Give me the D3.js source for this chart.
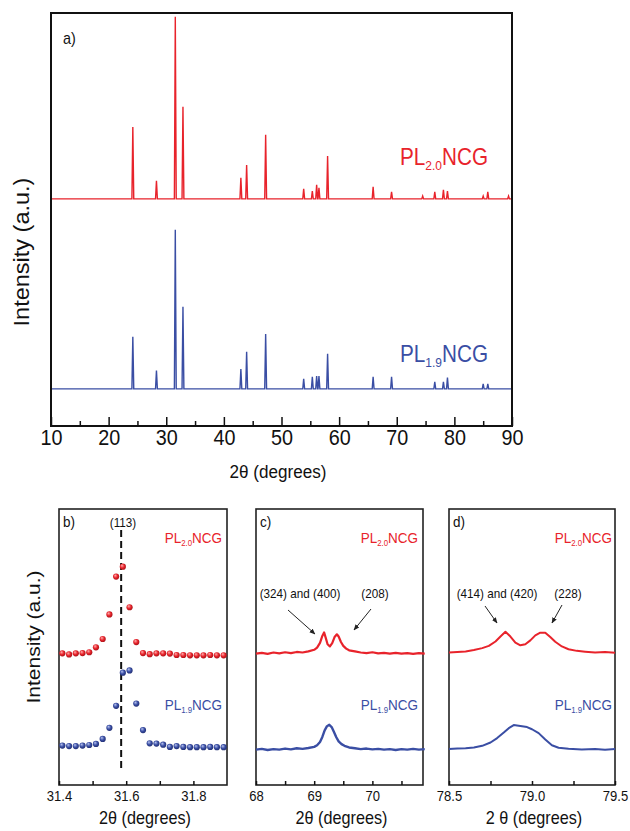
<!DOCTYPE html>
<html>
<head>
<meta charset="utf-8">
<script src="https://cdn.jsdelivr.net/npm/d3@7"></script>
<style>
  body { margin: 0; background: #fff; }
  text { font-family: "Liberation Sans", Arial, sans-serif; }
</style>
</head>
<body>
<script>
// ---- panel a: full patterns (peak positions + heights above each baseline)
const peakPos = [24.2, 28.3, 31.57, 32.9, 42.95, 43.95, 47.25, 53.85, 55.35, 56.1, 56.5, 58.0, 65.9, 69.1, 74.5, 76.6, 78.1, 78.8, 85.0, 85.8, 89.4];
const redPeaks = [174, 44, 441, 223, 51, 82, 155, 24, 19, 34, 27, 104, 29, 17, 7, 17, 22, 19, 7, 17, 7];
const bluePeaks = [126, 44, 385, 199, 48, 90, 133, 24, 29, 31, 31, 85, 29, 29, 0, 17, 17, 27, 12, 12, 0];
const redBase = 550, blueBase = 90;
const aTicks = [10, 20, 30, 40, 50, 60, 70, 80, 90];
const aMinor = [15, 25, 35, 45, 55, 65, 75, 85];

// ---- panel b: (113) reflection, measured points
const bTheta = [31.41, 31.43, 31.45, 31.47, 31.49, 31.51, 31.53, 31.55, 31.57, 31.59, 31.61, 31.63, 31.65,
                31.67, 31.69, 31.71, 31.73, 31.75, 31.77, 31.79, 31.81, 31.83, 31.85, 31.87, 31.89];
const bRed = [47.7, 47.3, 47.7, 47.8, 48.1, 49.9, 52.9, 61.8, 75.5, 79.1, 64.4, 51.8, 47.8,
              47.4, 47.7, 47.7, 47.6, 47.1, 47.1, 47.0, 47.0, 47.0, 47.1, 47.0, 47.0];
const bBlue = [14.3, 14.1, 14.1, 14.3, 14.5, 14.9, 16.7, 20.7, 28.7, 40.7, 41.5, 29.5, 19.9,
               15.1, 15.0, 14.6, 13.8, 14.1, 13.8, 13.7, 13.7, 13.7, 13.8, 13.7, 13.7];
const bTicks = [31.4, 31.6, 31.8];
const bMinor = [31.5, 31.7];

// ---- panel c: 68-71 degrees
const cRedTheta = [68.0, 68.1, 68.2, 68.3, 68.4, 68.5, 68.6, 68.7, 68.8, 68.9, 69.0, 69.05, 69.1, 69.14, 69.17, 69.2,
                   69.23, 69.27, 69.31, 69.35, 69.39, 69.42, 69.46, 69.5, 69.55, 69.6, 69.7, 69.8, 69.9, 70.0,
                   70.1, 70.2, 70.3, 70.4, 70.5, 70.6, 70.7, 70.8, 70.9];
const cRed = [47.6, 47.9, 47.5, 48.0, 47.7, 48.1, 47.8, 48.2, 48.0, 48.4, 49.0, 49.8, 51.5, 54.0, 55.3, 53.2,
              51.0, 50.2, 51.4, 53.6, 54.6, 53.8, 51.8, 50.4, 49.4, 48.8, 48.4, 48.0, 47.8, 48.1,
              47.7, 47.9, 47.6, 47.9, 47.6, 47.8, 47.5, 47.8, 47.6];
const cBlueTheta = [68.0, 68.1, 68.2, 68.3, 68.4, 68.5, 68.6, 68.7, 68.8, 68.9, 69.0, 69.05, 69.1, 69.14, 69.18, 69.22,
                    69.26, 69.3, 69.34, 69.38, 69.42, 69.47, 69.52, 69.6, 69.7, 69.8, 69.9, 70.0, 70.1, 70.2,
                    70.3, 70.4, 70.5, 70.6, 70.7, 70.8, 70.9];
const cBlue = [12.8, 13.1, 12.7, 13.0, 12.8, 13.2, 12.9, 13.3, 13.1, 13.4, 13.8, 14.4, 15.6, 17.4, 19.8, 21.3,
               21.8, 21.0, 19.2, 17.3, 15.8, 14.8, 14.2, 13.6, 13.3, 13.0, 13.2, 12.9, 13.1, 12.8,
               13.0, 12.7, 13.0, 12.8, 13.1, 12.8, 13.0];
const cTicks = [68, 69, 70];
const cMinor = [68.5, 69.5, 70.5];

// ---- panel d: 78.5-79.5 degrees
const dRedTheta = [78.5, 78.55, 78.6, 78.65, 78.7, 78.74, 78.78, 78.81, 78.84, 78.87, 78.9, 78.93, 78.96,
                   78.99, 79.02, 79.05, 79.08, 79.11, 79.14, 79.18, 79.22, 79.27, 79.32, 79.38, 79.44, 79.5];
const dRed = [48.0, 48.2, 48.4, 48.9, 49.6, 50.4, 52.0, 53.8, 55.5, 53.8, 51.6, 50.6, 51.0,
              52.4, 54.2, 55.2, 55.2, 53.6, 51.9, 50.2, 49.2, 48.6, 48.3, 48.0, 48.2, 47.9];
const dBlueTheta = [78.5, 78.55, 78.6, 78.65, 78.7, 78.75, 78.79, 78.83, 78.86, 78.89, 78.93, 78.97, 79.0,
                    79.04, 79.08, 79.12, 79.16, 79.22, 79.3, 79.38, 79.44, 79.5];
const dBlue = [13.0, 13.2, 13.3, 13.6, 14.2, 15.4, 17.0, 19.0, 20.6, 21.7, 21.4, 21.0, 20.2,
               18.8, 16.5, 14.4, 13.5, 13.1, 12.9, 13.0, 12.8, 13.0];
const dTicks = [78.5, 79.0, 79.5];
const dMinor = [78.75, 79.25];

const RED = '#e8232b';
const BLUE = '#3a4ea4';
const SX = 0.9; // source figure is slightly squeezed horizontally

const svg = d3.select('body').append('svg')
  .attr('width', 630).attr('height', 831);
svg.append('rect').attr('width', 630).attr('height', 831).attr('fill', '#fff');

const defs = svg.append('defs');
defs.append('marker').attr('id', 'arrow')
  .attr('viewBox', '0 0 10 10').attr('refX', 9).attr('refY', 5)
  .attr('markerWidth', 6).attr('markerHeight', 6).attr('orient', 'auto')
  .append('path').attr('d', 'M0,1 L10,5 L0,9 Z').attr('fill', '#222');

function ball (id, c0, c1, c2) {
  let g = defs.append('radialGradient').attr('id', id)
    .attr('cx', '45%').attr('cy', '45%').attr('r', '60%').attr('fx', '35%').attr('fy', '30%');
  g.append('stop').attr('offset', '0%').attr('stop-color', c0);
  g.append('stop').attr('offset', '55%').attr('stop-color', c1);
  g.append('stop').attr('offset', '100%').attr('stop-color', c2);
}
ball('redBall', '#ffb0b0', '#e8232b', '#a01015');
ball('blueBall', '#b8c4f0', '#3a4ea4', '#1d2a6c');

// text helper, squeezed horizontally like the original
function label (g, x, y, str, size, opts = {}) {
  return g.append('text')
    .attr('transform', `translate(${x},${y}) scale(${SX},1)` + (opts.rotate ? ' rotate(-90)' : ''))
    .attr('text-anchor', opts.anchor || 'middle')
    .attr('dy', '0.35em')
    .attr('font-size', size)
    .attr('fill', opts.fill || '#111')
    .text(str);
}

// "PL" + subscript + "NCG"
function sampleName (g, x, y, sub, size, color, anchor) {
  let t = g.append('text')
    .attr('transform', `translate(${x},${y}) scale(${SX},1)`)
    .attr('text-anchor', anchor)
    .attr('font-size', size)
    .attr('fill', color);
  t.append('tspan').text('PL');
  t.append('tspan').attr('font-size', size * 0.58).attr('dy', size * 0.22).text(sub);
  t.append('tspan').attr('dy', -size * 0.22).text('NCG');
}

function bottomAxis (g, x, y0, major, minor, majorLen, minorLen, fmt, fontSize, labelOff) {
  let ax = g.append('g').attr('transform', `translate(0,${y0})`)
    .call(d3.axisBottom(x).tickValues(major).tickSize(-majorLen).tickFormat(fmt));
  ax.select('.domain').remove();
  ax.selectAll('line').attr('stroke', '#111').attr('stroke-width', 1.5);
  ax.selectAll('text')
    .attr('y', labelOff).attr('dy', '0.35em')
    .attr('transform', `scale(${SX},1)`)
    .attr('font-size', fontSize).attr('fill', '#111')
    .attr('font-family', '"Liberation Sans", Arial, sans-serif');
  let mi = g.append('g').attr('transform', `translate(0,${y0})`)
    .call(d3.axisBottom(x).tickValues(minor).tickSize(-minorLen).tickFormat(''));
  mi.select('.domain').remove();
  mi.selectAll('line').attr('stroke', '#111').attr('stroke-width', 1.5);
}

// ================= panel a =================
const A = { left: 51, right: 512, top: 13, bottom: 426 };
const xA = d3.scaleLinear().domain([10, 90]).range([A.left, A.right]);
const yA = d3.scaleLinear().domain([0, 1000]).range([A.bottom, A.top]);
const gA = svg.append('g');

function pattern (heights, base) {
  let pts = [[10, base]];
  peakPos.forEach((p, i) => {
    if (heights[i] <= 0) return;
    pts.push([p - 0.16, base], [p, base + heights[i]], [p + 0.16, base]);
  });
  pts.push([90, base]);
  return pts;
}
const lineA = d3.line().x(d => xA(d[0])).y(d => yA(d[1]));
gA.append('path').attr('d', lineA(pattern(redPeaks, redBase)))
  .attr('fill', 'none').attr('stroke', RED).attr('stroke-width', 1.4);
gA.append('path').attr('d', lineA(pattern(bluePeaks, blueBase)))
  .attr('fill', 'none').attr('stroke', BLUE).attr('stroke-width', 1.4);

gA.append('rect').attr('x', A.left).attr('y', A.top)
  .attr('width', A.right - A.left).attr('height', A.bottom - A.top)
  .attr('fill', 'none').attr('stroke', '#111').attr('stroke-width', 2);
bottomAxis(gA, xA, A.bottom, aTicks, aMinor, 9, 5, d3.format('d'), 22, 11);

label(gA, 278, 471, '2\u03b8 (degrees)', 19);
label(gA, 22, 252, 'Intensity (a.u.)', 23.5, { rotate: true });
label(gA, 63, 38, 'a)', 16, { anchor: 'start' });
sampleName(gA, 400, 165, '2.0', 23, RED, 'start');
sampleName(gA, 400, 362, '1.9', 23, BLUE, 'start');

// ================= panels b, c, d =================
const top2 = 509, bottom2 = 785;
const y2 = d3.scaleLinear().domain([0, 100]).range([bottom2, top2]);

function smallPanel (x, tag, major, minor, fmt, title) {
  let g = svg.append('g');
  g.append('rect').attr('x', x.range()[0]).attr('y', top2)
    .attr('width', x.range()[1] - x.range()[0]).attr('height', bottom2 - top2)
    .attr('fill', 'none').attr('stroke', '#222').attr('stroke-width', 1.6);
  bottomAxis(g, x, bottom2, major, minor, 4, 4, fmt, 14.5, 11);
  label(g, x.range()[0] + 4, 522, tag, 15, { anchor: 'start' });
  label(g, (x.range()[0] + x.range()[1]) / 2 + 2, 818, title, 18);
  return g;
}

// b
const xB = d3.scaleLinear().domain([31.4, 31.9]).range([59, 227]);
const gB = smallPanel(xB, 'b)', bTicks, bMinor, d3.format('.1f'), '2\u03b8 (degrees)');
gB.append('line')
  .attr('x1', xB(31.585)).attr('x2', xB(31.585)).attr('y1', 530).attr('y2', 771)
  .attr('stroke', '#111').attr('stroke-width', 2).attr('stroke-dasharray', '7,4');
gB.selectAll('circle.red').data(bTheta).join('circle')
  .attr('class', 'red').attr('cx', d => xB(d)).attr('cy', (d, i) => y2(bRed[i]))
  .attr('r', 3.1).attr('fill', 'url(#redBall)');
gB.selectAll('circle.blue').data(bTheta).join('circle')
  .attr('class', 'blue').attr('cx', d => xB(d)).attr('cy', (d, i) => y2(bBlue[i]))
  .attr('r', 3.1).attr('fill', 'url(#blueBall)');
label(gB, 123, 522, '(113)', 13);
label(gB, 33, 637, 'Intensity (a.u.)', 21, { rotate: true });
sampleName(gB, 222, 543, '2.0', 15, RED, 'end');
sampleName(gB, 222, 710, '1.9', 15, BLUE, 'end');

// c
const xC = d3.scaleLinear().domain([68, 70.87]).range([256, 423]);
const gC = smallPanel(xC, 'c)', cTicks, cMinor, d3.format('d'), '2\u03b8 (degrees)');
const lineC = d3.line().x(d => xC(d[0])).y(d => y2(d[1]));
gC.append('path').attr('d', lineC(cRedTheta.map((t, i) => [t, cRed[i]])))
  .attr('fill', 'none').attr('stroke', RED).attr('stroke-width', 2.2).attr('stroke-linejoin', 'round');
gC.append('path').attr('d', lineC(cBlueTheta.map((t, i) => [t, cBlue[i]])))
  .attr('fill', 'none').attr('stroke', BLUE).attr('stroke-width', 2.4).attr('stroke-linejoin', 'round');
sampleName(gC, 418, 543, '2.0', 15, RED, 'end');
sampleName(gC, 418, 710, '1.9', 15, BLUE, 'end');
label(gC, 300, 593, '(324) and (400)', 13);
label(gC, 375, 593, '(208)', 13);
gC.append('line').attr('x1', 288).attr('y1', 610).attr('x2', 315).attr('y2', 634)
  .attr('stroke', '#222').attr('stroke-width', 1).attr('marker-end', 'url(#arrow)');
gC.append('line').attr('x1', 371).attr('y1', 609).attr('x2', 354).attr('y2', 630)
  .attr('stroke', '#222').attr('stroke-width', 1).attr('marker-end', 'url(#arrow)');

// d
const xD = d3.scaleLinear().domain([78.5, 79.5]).range([449, 615]);
const gD = smallPanel(xD, 'd)', dTicks, dMinor, d3.format('.1f'), '2 \u03b8 (degrees)');
const lineD = d3.line().x(d => xD(d[0])).y(d => y2(d[1]));
gD.append('path').attr('d', lineD(dRedTheta.map((t, i) => [t, dRed[i]])))
  .attr('fill', 'none').attr('stroke', RED).attr('stroke-width', 2).attr('stroke-linejoin', 'round');
gD.append('path').attr('d', lineD(dBlueTheta.map((t, i) => [t, dBlue[i]])))
  .attr('fill', 'none').attr('stroke', BLUE).attr('stroke-width', 2).attr('stroke-linejoin', 'round');
sampleName(gD, 612, 543, '2.0', 15, RED, 'end');
sampleName(gD, 612, 710, '1.9', 15, BLUE, 'end');
label(gD, 497, 593, '(414) and (420)', 13);
label(gD, 568, 593, '(228)', 13);
gD.append('line').attr('x1', 485).attr('y1', 606).attr('x2', 497).attr('y2', 623)
  .attr('stroke', '#222').attr('stroke-width', 1).attr('marker-end', 'url(#arrow)');
gD.append('line').attr('x1', 562).attr('y1', 605).attr('x2', 552).attr('y2', 623)
  .attr('stroke', '#222').attr('stroke-width', 1).attr('marker-end', 'url(#arrow)');
</script>
</body>
</html>
